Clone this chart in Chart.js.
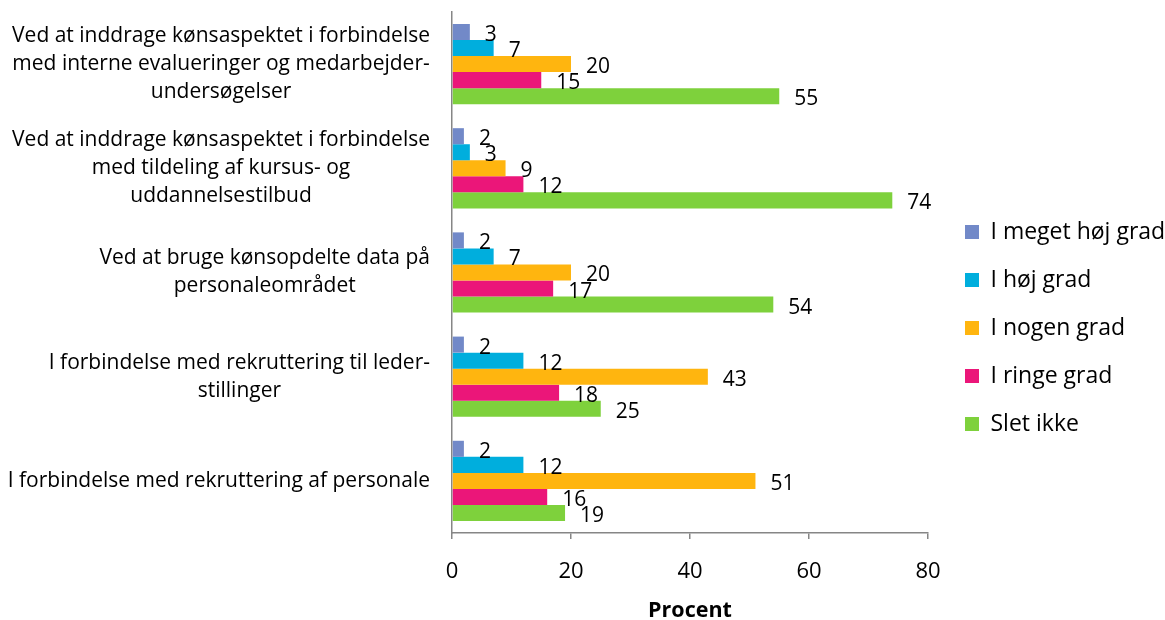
<!DOCTYPE html>
<html>
<head>
<meta charset="utf-8">
<script src="https://cdn.jsdelivr.net/npm/chart.js@4.4.1/dist/chart.umd.min.js"></script>
<style>
    html, body { margin: 0; padding: 0; background: #ffffff; }
</style>
</head>
<body>
<canvas id="barChart" width="1165" height="620"></canvas>
<script>
// Data
const categories = [
    ["Ved at inddrage kønsaspektet i forbindelse", "med interne evalueringer og medarbejder-", "undersøgelser"],
    ["Ved at inddrage kønsaspektet i forbindelse", "med tildeling af kursus- og", "uddannelsestilbud"],
    ["Ved at bruge kønsopdelte data på", "personaleområdet"],
    ["I forbindelse med rekruttering til leder-", "stillinger"],
    ["I forbindelse med rekruttering af personale"],
];
const seriesNames = ["I meget høj grad", "I høj grad", "I nogen grad", "I ringe grad", "Slet ikke"];
const megetHoejGrad = [3, 2, 2, 2, 2];
const hoejGrad = [7, 3, 7, 12, 12];
const nogenGrad = [20, 9, 20, 43, 51];
const ringeGrad = [15, 12, 17, 18, 16];
const sletIkke = [55, 74, 54, 25, 19];
const xTicks = [0, 20, 40, 60, 80];

const colors = ["#7289C8", "#00AEDD", "#FFB50F", "#EB1679", "#7ED13C"];
const seriesValues = [megetHoejGrad, hoejGrad, nogenGrad, ringeGrad, sletIkke];
const FONT = "'Open Sans'";
const AXIS_GRAY = "#868686";

// value labels right of each bar
const valueLabels = {
    id: "valueLabels",
    afterDatasetsDraw(chart) {
        const ctx = chart.ctx;
        ctx.save();
        ctx.font = "21px " + FONT;
        ctx.fillStyle = "#000";
        ctx.textAlign = "left";
        ctx.textBaseline = "middle";
        chart.data.datasets.forEach(function (ds, di) {
            chart.getDatasetMeta(di).data.forEach(function (bar, i) {
                ctx.fillText(String(ds.data[i]), bar.x + 15, bar.y + 3);
            });
        });
        ctx.restore();
    },
};

// category labels: each block right-aligned, lines centered inside
const categoryLabels = {
    id: "categoryLabels",
    afterDraw(chart) {
        const ctx = chart.ctx;
        const yScale = chart.scales.y;
        const right = 430;
        const lineH = 28;
        ctx.save();
        ctx.font = "21px " + FONT;
        ctx.fillStyle = "#000";
        ctx.textAlign = "center";
        ctx.textBaseline = "middle";
        categories.forEach(function (lines, i) {
            const y = yScale.getPixelForValue(i);
            let w = 0;
            lines.forEach(function (l) { w = Math.max(w, ctx.measureText(l).width); });
            const cx = right - w / 2;
            lines.forEach(function (l, j) {
                ctx.fillText(l, cx, y + (j - (lines.length - 1) / 2) * lineH);
            });
        });
        ctx.restore();
    },
};

// fix legend width / position like the original
const legendPlace = {
    id: "legendPlace",
    beforeLayout(chart) {
        const lg = chart.legend;
        if (lg && !lg._patched) {
            const fit = lg.fit;
            lg.fit = function () {
                fit.call(this);
                this.width = 237;
            };
            lg._patched = true;
        }
    },
    afterLayout(chart) {
        const lg = chart.legend;
        if (lg) {
            lg.left += 12;
            lg.right += 12;
            lg.top += 12;
            lg.bottom += 12;
        }
    },
};

const ctx = document.getElementById("barChart").getContext("2d");
const barChart = new Chart(ctx, {
    type: "bar",
    data: {
        labels: categories,
        datasets: seriesNames.map(function (name, i) {
            return {
                label: name,
                data: seriesValues[i],
                backgroundColor: colors[i],
                borderWidth: 0,
                barPercentage: 1,
                categoryPercentage: 0.77,
            };
        }),
    },
    options: {
        indexAxis: "y",
        responsive: false,
        animation: false,
        layout: {
            padding: { top: 12, left: 0, right: 0, bottom: 0 },
        },
        scales: {
            x: {
                min: 0,
                max: 80,
                afterBuildTicks: function (s) {
                    s.ticks = xTicks.map(function (v) { return { value: v }; });
                },
                afterFit: function (s) { s.height = 87; },
                grid: {
                    drawOnChartArea: false,
                    drawTicks: true,
                    tickLength: 6,
                    color: AXIS_GRAY,
                    lineWidth: 1.5,
                },
                border: { display: true, color: AXIS_GRAY, width: 1.5 },
                ticks: {
                    color: "#000",
                    padding: 20,
                    font: { family: FONT, size: 22 },
                },
                title: {
                    display: true,
                    text: "Procent",
                    color: "#000",
                    padding: { top: 0, bottom: -4 },
                    font: { family: FONT, size: 21.5, weight: "bold" },
                },
            },
            y: {
                afterFit: function (s) { s.width = 452; },
                grid: { display: false },
                border: { display: true, color: AXIS_GRAY, width: 1.5 },
                ticks: { display: false },
            },
        },
        plugins: {
            legend: {
                display: true,
                position: "right",
                align: "center",
                labels: {
                    color: "#000",
                    boxWidth: 14,
                    boxHeight: 14,
                    padding: 25,
                    font: { family: FONT, size: 23 },
                },
            },
            tooltip: { enabled: false },
        },
    },
    plugins: [valueLabels, categoryLabels, legendPlace],
});
</script>
</body>
</html>
